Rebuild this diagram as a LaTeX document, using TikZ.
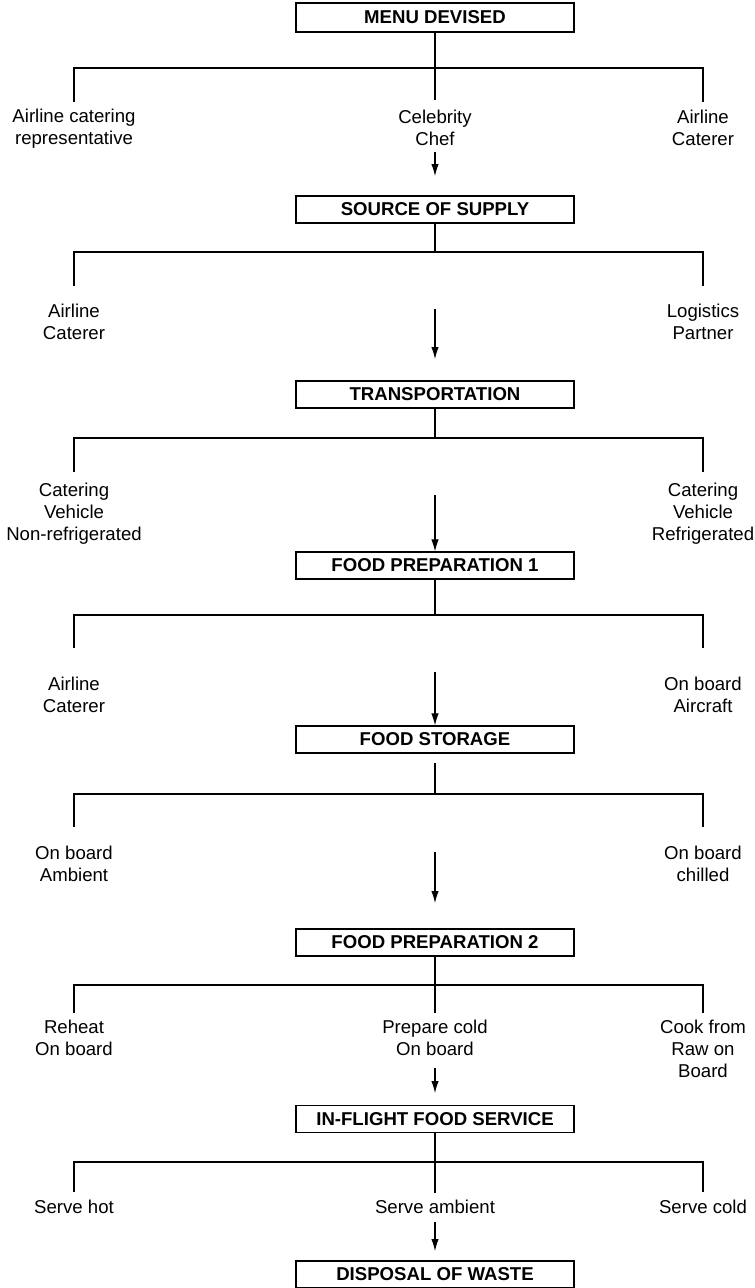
\documentclass[tikz,border=0pt]{standalone}
\usepackage{fontspec}
\setmainfont{Liberation Sans}
\usetikzlibrary{arrows.meta}
\begin{document}
\begin{tikzpicture}[x=1pt,y=-1pt,
  stagebox/.style={draw,line width=1.2pt,minimum width=278pt,minimum height=27pt,
    inner sep=0pt,font=\fontsize{18.6}{21}\selectfont\bfseries},
  optlabel/.style={align=center,inner sep=0pt,font=\fontsize{18.6}{22}\selectfont},
  link/.style={line width=1.1pt},
  flow/.style={line width=1.1pt,-{Latex[length=12pt,width=7.5pt]}}]
\useasboundingbox (0,0) rectangle (755,1288);

% ---------- stage boxes ----------
\node[stagebox,minimum height=29pt] (menu) at (435,17.5) {MENU DEVISED};
\node[stagebox] (supply) at (435,209.5) {SOURCE OF SUPPLY};
\node[stagebox] (transport) at (435,394.5) {TRANSPORTATION};
\node[stagebox] (prepA) at (435,565.5) {FOOD PREPARATION 1};
\node[stagebox] (storage) at (435,739.5) {FOOD STORAGE};
\node[stagebox] (prepB) at (435,942.5) {FOOD PREPARATION 2};
\node[stagebox] (service) at (435,1119) {IN-FLIGHT FOOD SERVICE};
\node[stagebox] (waste) at (435,1274.5) {DISPOSAL OF WASTE};

% ---------- menu devised ----------
\coordinate (mL) at (74,68); \coordinate (mR) at (703,68);
\coordinate (mLd) at (74,102); \coordinate (mRd) at (703,102); \coordinate (mCd) at (435,100);
\node[optlabel] (repr) at (74,129) {Airline catering\\representative};
\node[optlabel] (chef) at (435,128) {Celebrity\\Chef};
\node[optlabel] (caterA) at (703,128) {Airline\\Caterer};
\draw[link] (menu.south) -- (mCd);
\draw[link] (mLd) -- (mL) -- (mR) -- (mRd);
\coordinate (a1) at (435,152);
\draw[flow] (a1) -- (435,176);

% ---------- source of supply ----------
\coordinate (sL) at (74,252); \coordinate (sR) at (703,252);
\coordinate (sLd) at (74,286); \coordinate (sRd) at (703,286);
\node[optlabel] (caterB) at (74,322) {Airline\\Caterer};
\node[optlabel] (logist) at (703,322) {Logistics\\Partner};
\draw[link] (supply.south) -- (435,252);
\draw[link] (sLd) -- (sL) -- (sR) -- (sRd);
\coordinate (a2) at (435,309);
\draw[flow] (a2) -- (435,359);

% ---------- transportation ----------
\coordinate (tL) at (74,438); \coordinate (tR) at (703,438);
\coordinate (tLd) at (74,472); \coordinate (tRd) at (703,472);
\node[optlabel] (vehA) at (74,514) {Catering\\Vehicle\\Non-refrigerated};
\node[optlabel] (vehB) at (703,514) {Catering\\Vehicle\\Refrigerated};
\draw[link] (transport.south) -- (435,438);
\draw[link] (tLd) -- (tL) -- (tR) -- (tRd);
\coordinate (a3) at (435,495);
\draw[flow] (a3) -- (prepA.north);

% ---------- food preparation 1 ----------
\coordinate (pL) at (74,615); \coordinate (pR) at (703,615);
\coordinate (pLd) at (74,648); \coordinate (pRd) at (703,648);
\node[optlabel] (caterC) at (74,695) {Airline\\Caterer};
\node[optlabel] (aircraft) at (703,695) {On board\\Aircraft};
\draw[link] (prepA.south) -- (435,615);
\draw[link] (pLd) -- (pL) -- (pR) -- (pRd);
\coordinate (a4) at (435,672);
\draw[flow] (a4) -- (storage.north);

% ---------- food storage ----------
\coordinate (fL) at (74,794); \coordinate (fR) at (703,794);
\coordinate (fLd) at (74,827); \coordinate (fRd) at (703,827);
\node[optlabel] (ambient) at (74,864) {On board\\Ambient};
\node[optlabel] (chilled) at (703,864) {On board\\chilled};
\draw[link] (435,763) -- (435,794);
\draw[link] (fLd) -- (fL) -- (fR) -- (fRd);
\coordinate (a5) at (435,852);
\draw[flow] (a5) -- (435,903);

% ---------- food preparation 2 ----------
\coordinate (qL) at (74,985); \coordinate (qR) at (703,985);
\coordinate (qLd) at (74,1013); \coordinate (qRd) at (703,1013); \coordinate (qCd) at (435,1013);
\node[optlabel] (reheat) at (74,1038) {Reheat\\On board};
\node[optlabel] (cold) at (435,1038) {Prepare cold\\On board};
\node[optlabel] (raw) at (703,1049) {Cook from\\Raw on\\Board};
\draw[link] (prepB.south) -- (qCd);
\draw[link] (qLd) -- (qL) -- (qR) -- (qRd);
\coordinate (a6) at (435,1068);
\draw[flow] (a6) -- (435,1093);

% ---------- in-flight food service ----------
\coordinate (iL) at (74,1162); \coordinate (iR) at (703,1162);
\coordinate (iLd) at (74,1192); \coordinate (iRd) at (703,1192); \coordinate (iCd) at (435,1193);
\node[optlabel] (hot) at (74,1207) {Serve hot};
\node[optlabel] (amb) at (435,1207) {Serve ambient};
\node[optlabel] (scold) at (703,1207) {Serve cold};
\draw[link] (service.south) -- (iCd);
\draw[link] (iLd) -- (iL) -- (iR) -- (iRd);
\coordinate (a7) at (435,1222);
\draw[flow] (a7) -- (435,1251);
\end{tikzpicture}
\end{document}
